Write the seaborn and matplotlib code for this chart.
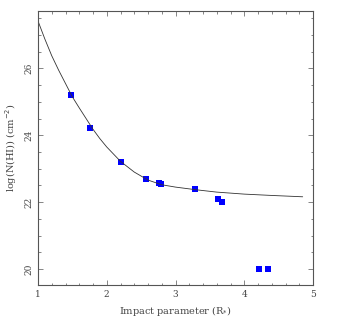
import numpy as np
import pandas as pd
import matplotlib
matplotlib.use("Agg")
import matplotlib.pyplot as plt
from matplotlib.ticker import MultipleLocator
import seaborn as sns

# observed points
impact = [1.48, 1.76, 2.21, 2.57, 2.76, 2.79, 3.29, 3.62, 3.68, 4.21, 4.34]
log_nhi = [25.2, 24.23, 23.2, 22.68, 22.56, 22.55, 22.38, 22.1, 22.0, 20.0, 20.0]

# model curve
curve_x = [1.0, 1.1, 1.2, 1.3, 1.4, 1.5, 1.6, 1.7, 1.8, 1.9, 2.0, 2.2, 2.4,
           2.6, 2.8, 3.0, 3.3, 3.6, 4.0, 4.4, 4.85]
curve_y = [27.42, 26.88, 26.38, 25.95, 25.55, 25.15, 24.82, 24.5, 24.18, 23.9,
           23.65, 23.22, 22.9, 22.66, 22.52, 22.45, 22.37, 22.3, 22.24, 22.2, 22.16]

x_ticks = [1, 2, 3, 4, 5]
y_ticks = [20, 22, 24, 26]

sns.set_style("ticks")
plt.rcParams['font.family'] = ['DejaVu Serif']
plt.rcParams['axes.edgecolor'] = '#555555'
plt.rcParams['xtick.color'] = '#555555'
plt.rcParams['ytick.color'] = '#555555'

pts = pd.DataFrame({'b': impact, 'n': log_nhi})
model = pd.DataFrame({'b': curve_x, 'n': curve_y})

fig = plt.figure(figsize=(3.41, 3.25), dpi=100)
ax = fig.add_axes([38 / 341, 1 - 285 / 325, 275 / 341, 274 / 325])

sns.lineplot(data=model, x='b', y='n', ax=ax, color='#333333', linewidth=0.6)
sns.scatterplot(data=pts, x='b', y='n', ax=ax, marker='s', s=14,
                color='#0000ff', edgecolor='#0000ff', linewidth=0)

ax.set_xlim(1, 5)
ax.set_ylim(19.52, 27.72)
ax.set_xticks(x_ticks)
ax.set_yticks(y_ticks)
ax.xaxis.set_minor_locator(MultipleLocator(0.2))
ax.yaxis.set_minor_locator(MultipleLocator(0.5))
ax.tick_params(which='both', direction='in', top=True, right=True,
               labelsize=6.5, labelcolor='#444444', width=0.5)
ax.tick_params(which='major', length=3.6)
ax.tick_params(which='minor', length=1.8)
for lab in ax.get_yticklabels():
    lab.set_rotation(90)
    lab.set_va('center')
for sp in ax.spines.values():
    sp.set_linewidth(0.8)

ax.set_xlabel(r'Impact parameter (R$_{*}$)', fontsize=7, color='#444444', labelpad=4)
ax.set_ylabel(r'log(N(HI)) (cm$^{-2}$)', fontsize=7, color='#444444', labelpad=4)

fig.savefig('out.png', dpi=100)
